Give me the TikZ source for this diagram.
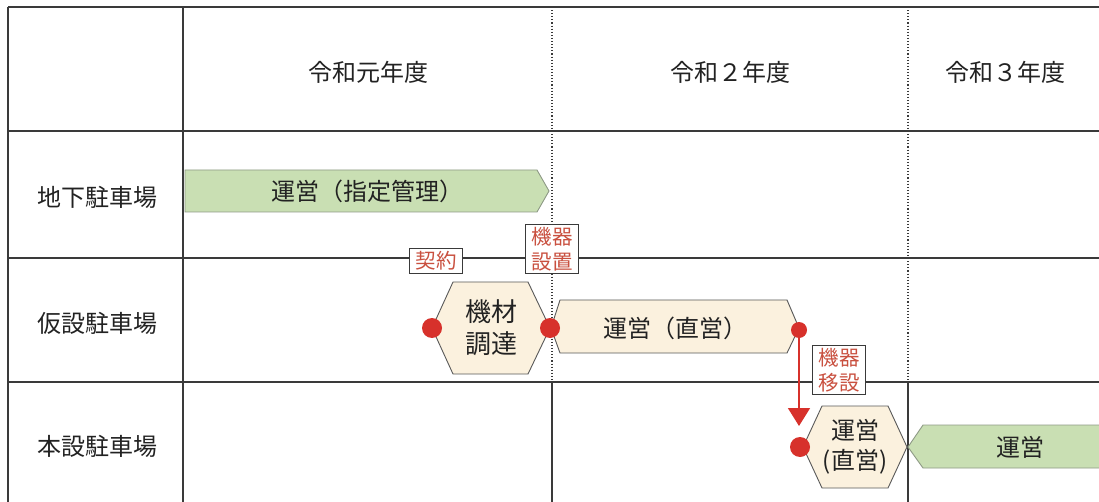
\documentclass[tikz,border=0pt]{standalone}
\usepackage{fontspec}
\newfontfamily\jp{Noto Sans CJK JP}
\usetikzlibrary{arrows.meta}
\definecolor{lineC}{HTML}{3A3A3A}
\definecolor{greenF}{HTML}{C9DFB3}
\definecolor{greenD}{HTML}{8E9A86}
\definecolor{beigeF}{HTML}{FBF1DE}
\definecolor{redD}{HTML}{D7312B}
\definecolor{redT}{HTML}{C9503F}
\definecolor{txt}{HTML}{222222}
\begin{document}
\begin{tikzpicture}[x=1pt,y=-1pt,
  gridline/.style={draw=lineC, line width=1.2pt},
  gridthick/.style={draw=lineC, line width=2.4pt},
  dotline/.style={draw=lineC, line width=1.1pt, dotted},
  greenbar/.style={fill=greenF, draw=greenD, line width=0.9pt},
  beigehex/.style={fill=beigeF, draw=black!65, line width=0.9pt},
  head/.style={font=\jp\fontsize{24}{28}\selectfont, text=txt},
  bartext/.style={font=\jp\fontsize{24}{30}\selectfont, text=txt, align=center},
  lbl/.style={draw=lineC, fill=white, text=redT, line width=0.9pt, font=\jp\fontsize{20.5}{25}\selectfont, inner xsep=6pt, inner ysep=3pt, align=center},
  reddot/.style={circle, fill=redD, inner sep=0pt, minimum size=#1},
  reddot/.default=20pt
]
\useasboundingbox (0,0) rectangle (1099,502);
\fill[white] (0,0) rectangle (1099,502);

% grid
\draw[gridline] (8,7) -- (1099,7);
\draw[gridthick] (8,131) -- (1099,131);
\draw[gridline] (8,258) -- (1099,258);
\draw[gridline] (8,382) -- (1099,382);
\draw[gridline] (8,7) -- (8,502);
\draw[gridthick] (183,7) -- (183,502);
\draw[dotline] (552,7) -- (552,382);
\draw[gridline] (552,382) -- (552,502);
\draw[dotline] (908,7) -- (908,382);
\draw[gridline] (908,382) -- (908,502);

% headers
\node[head] (y1) at (368,72) {令和元年度};
\node[head] (y2) at (730,72) {令和２年度};
\node[head] (y3) at (1005,72) {令和３年度};
\node[head] (r1) at (97,197) {地下駐車場};
\node[head] (r2) at (97,323) {仮設駐車場};
\node[head] (r3) at (97,446) {本設駐車場};

% green bar 1
\draw[greenbar] (185,170) -- (537,170) -- (549,191) -- (537,212) -- (185,212) -- cycle;
\node[bartext] (g1) at (367,191) {運営（指定管理）};

% labels
\node[lbl] (keiyaku) at (436,261) {契約};
\node[lbl] (secchi) at (552,249) {機器\\設置};

% hexagon 機材調達
\draw[beigehex] (432,328) -- (453,282) -- (528,282) -- (550,328) -- (528,374) -- (453,374) -- cycle;
\node[bartext, font=\jp\fontsize{26}{32}\selectfont] (kizai) at (491,328) {機材\\調達};

% hexagon 運営（直営）
\draw[beigehex] (551,328) -- (560,300) -- (787,300) -- (799,328) -- (787,353) -- (560,353) -- cycle;
\node[bartext] (unei2) at (675,328) {運営（直営）};

% hexagon row 3
\draw[beigehex] (803,447) -- (822,406) -- (888,406) -- (907,447) -- (888,488) -- (822,488) -- cycle;
\node[bartext, font=\jp\fontsize{24}{30}\selectfont] (unei3) at (855,447) {運営\\(直営)};

% green bar 2
\draw[greenbar] (1099,425) -- (923,425) -- (908,447) -- (923,468) -- (1099,468);
\node[bartext] (g2) at (1020,447) {運営};

% red dots
\node[reddot] (d1) at (432,328) {};
\node[reddot] (d2) at (550,328) {};
\node[reddot=16pt] (d3) at (799,330) {};
\node[reddot] (d4) at (800,447) {};
\coordinate (aend) at (799,426);
\draw[redD, line width=1.6pt, -{Triangle[width=22pt,length=18pt]}] (d3.south) -- (aend);

\node[lbl] (iten) at (839,370) {機器\\移設};
\end{tikzpicture}
\end{document}
